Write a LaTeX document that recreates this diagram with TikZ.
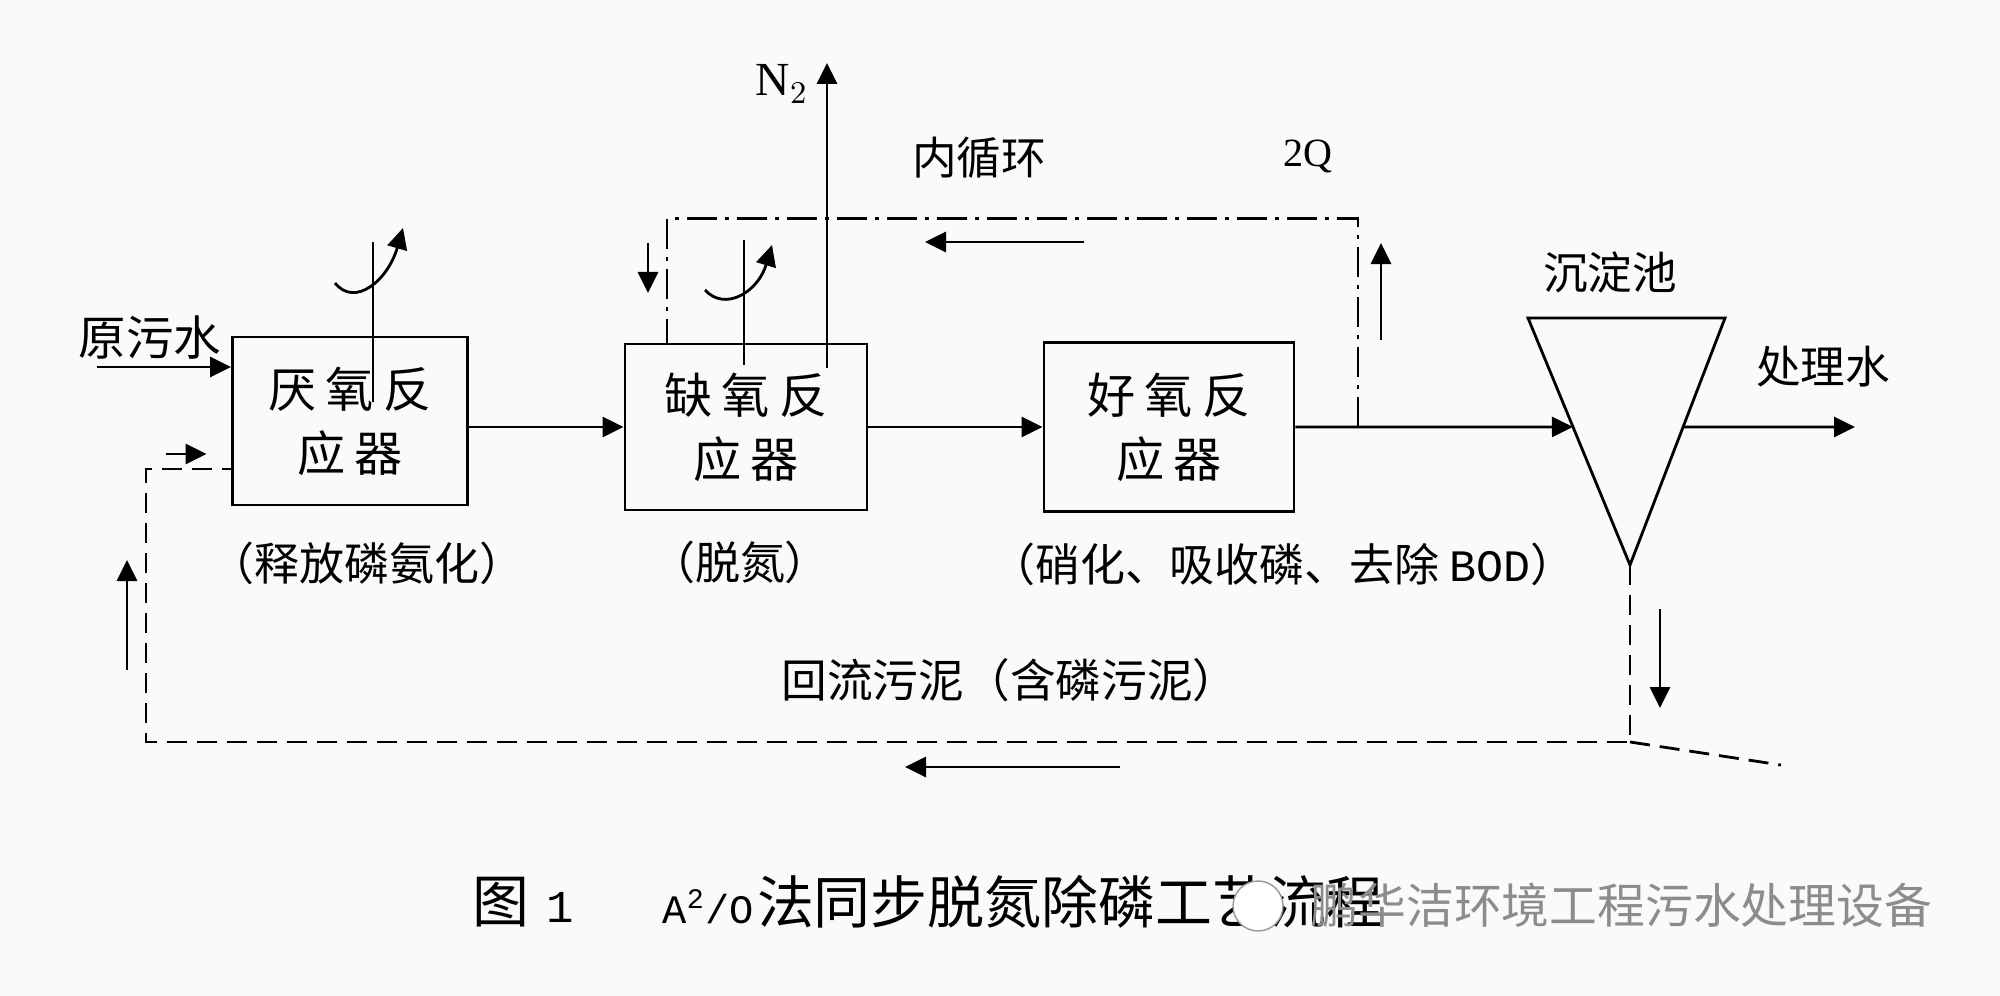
\documentclass[tikz,border=0pt]{standalone}
\usepackage{fontspec}
\setmainfont{Noto Sans CJK SC}
\newfontfamily\latinserif{Liberation Serif}
\newfontfamily\latinmono{Liberation Mono}
\usepackage{tikz}
\usetikzlibrary{arrows.meta,positioning,calc}
\newcommand\cgap{\hspace{0.2em}}

\begin{document}
\begin{tikzpicture}[
  box/.style ={rectangle,draw=black,line width=0.8pt,minimum width=2.4cm,minimum height=1.68cm,
               align=center,inner sep=0pt,font=\fontsize{13.7pt}{18.2pt}\selectfont},
  arr/.style={-{Triangle[length=0.21cm,width=0.2cm]},line width=0.8pt},
  flow/.style={line width=0.8pt},
  sludge/.style={line width=0.8pt,dash pattern=on 0.2cm off 0.1cm},
  recirc/.style={line width=0.8pt,dash pattern=on 0.3cm off 0.08cm on 0.04cm off 0.08cm},
  lab/.style={inner sep=0pt,font=\fontsize{12.7pt}{14pt}\selectfont},
  note/.style={inner sep=0pt,font=\fontsize{12.8pt}{14pt}\selectfont},
]
\fill[black!2] (0,0) rectangle (20,-9.96);
\useasboundingbox (0,0) rectangle (20,-9.96);

%% ─── reactors ────────────────────────────────────────────────────────────────
\node[box,minimum width=2.35cm] (anaer) at (3.50,-4.21) {厌\cgap 氧\cgap 反\\应\cgap 器};
\node[box,minimum width=2.42cm,minimum height=1.66cm] (anox) at (7.46,-4.27) {缺\cgap 氧\cgap 反\\应\cgap 器};
\node[box,minimum width=2.50cm,minimum height=1.69cm] (aer) at (11.69,-4.27) {好\cgap 氧\cgap 反\\应\cgap 器};

\node[note,below=0.35cm of anaer,xshift=0.17cm] (anaernote) {（释放磷氨化）};
\node[note,below=0.29cm of anox,xshift=-0.06cm] (anoxnote) {（脱氮）};
\node[note,below=0.29cm of aer,xshift=1.14cm] (aernote) {（硝化、吸收磷、去除 {\latinmono BOD}）};

%% ─── settling tank ───────────────────────────────────────────────────────────
\coordinate (stl) at (15.28,-3.18);
\coordinate (str) at (17.25,-3.18);
\coordinate (sap) at (16.30,-5.65);
\draw[flow] (stl) -- (str) -- (sap) -- cycle;
\coordinate (setin)  at ($(stl)!0.441!(sap)$);
\coordinate (setout) at ($(str)!0.441!(sap)$);
\node[lab] (setlab) at (16.10,-2.72) {沉淀池};

%% ─── main flow ───────────────────────────────────────────────────────────────
\coordinate (rawin) at (0.97,-3.67);
\coordinate (outw)  at (18.55,-4.27);
\draw[arr] (rawin) -- (rawin -| anaer.west);
\node[lab,font=\fontsize{13.5pt}{15pt}\selectfont] (rawlab) at (1.50,-3.38) {原污水};
\draw[arr] (anaer.east |- anox.west) -- (anox.west);
\draw[arr] (anox.east) -- (aer.west);
\draw[arr] (aer.east) -- (setin);
\draw[arr] (setout) -- (outw);
\node[lab] (outlab) at (18.23,-3.67) {处理水};

%% ─── mixers and N2 off-gas ───────────────────────────────────────────────────
\draw[flow] (3.73,-4.02) -- (3.73,-2.42);
\draw[arr] (3.35,-2.83) .. controls (3.55,-3.08) and (3.88,-2.80) .. (4.03,-2.28);
\draw[flow] (7.44,-3.65) -- (7.44,-2.40);
\draw[arr] (7.05,-2.90) .. controls (7.25,-3.12) and (7.58,-2.92) .. (7.72,-2.45);
\coordinate (ntop) at (8.27,-0.63);
\draw[arr] (8.27,-3.68) -- (ntop);
\node[font=\latinserif\fontsize{13.5pt}{15pt}\selectfont,inner sep=0pt] (nlab) at (7.82,-0.84) {N$_2$};

%% ─── internal recirculation ──────────────────────────────────────────────────
\coordinate (rcin) at (13.58,-4.27);
\coordinate (rcturn) at (6.67,-2.185);
\draw[recirc] (rcin) |- (rcturn) -- (rcturn |- anox.north);
\draw[arr] ($(rcin)+(0.23,0.87)$) -- ++(0,0.97);
\draw[arr] ($(rcturn)+(4.17,-0.235)$) -- ++(-1.59,0);
\draw[arr] ($(rcturn)+(-0.19,-0.245)$) -- ++(0,-0.50);
\node[lab] (irlab) at (9.79,-1.58) {内循环};
\node[font=\latinserif\fontsize{11.4pt}{13pt}\selectfont,inner sep=0pt] (qlab) at (13.08,-1.56) {2Q};

%% ─── return sludge ───────────────────────────────────────────────────────────
\coordinate (sbot)   at (16.30,-7.42);
\coordinate (sleft)  at (1.46,-7.42);
\coordinate (swaste) at (17.81,-7.65);
\draw[sludge] (sap) -- (sbot) -- (sleft) |- ([yshift=-0.48cm]anaer.west);
\draw[sludge] (sbot) -- (swaste);
\draw[arr] ($(sbot)+(0.30,1.33)$) -- ++(0,-0.99);
\draw[arr] ($(sleft)+(9.74,-0.25)$) -- ++(-2.15,0);
\draw[arr] ($(sleft)+(-0.19,0.72)$) -- ++(0,1.10);
\draw[arr] ($(anaer.west)+(-0.655,-0.33)$) -- ++(0.41,0);
\node[lab,font=\fontsize{13pt}{15pt}\selectfont] (rslab) at (10.10,-6.80) {回流污泥（含磷污泥）};

%% ─── caption ─────────────────────────────────────────────────────────────────
\node[anchor=west,inner sep=0pt,font=\fontsize{16.2pt}{18pt}\selectfont] (figno) at (4.72,-9.02)
  {图\hspace{0.3em}{\latinmono\fontsize{13pt}{15pt}\selectfont 1}};
\node[anchor=west,inner sep=0pt,font=\fontsize{16.2pt}{18pt}\selectfont] (figtitle) at (6.62,-9.02)
  {{\latinmono\fontsize{11.5pt}{13pt}\selectfont A\textsuperscript{2}/O}\hspace{0.05em}法同步脱氮除磷工艺流程};
\node[circle,draw=black!40,fill=white,minimum size=0.5cm,inner sep=0pt] (wicon) at (12.58,-9.06) {};
\node[anchor=west,inner sep=0pt,text=black!45,font=\fontsize{13.6pt}{15pt}\selectfont] (wmark) at (13.10,-9.05) {鹏华洁环境工程污水处理设备};

\end{tikzpicture}
\end{document}
